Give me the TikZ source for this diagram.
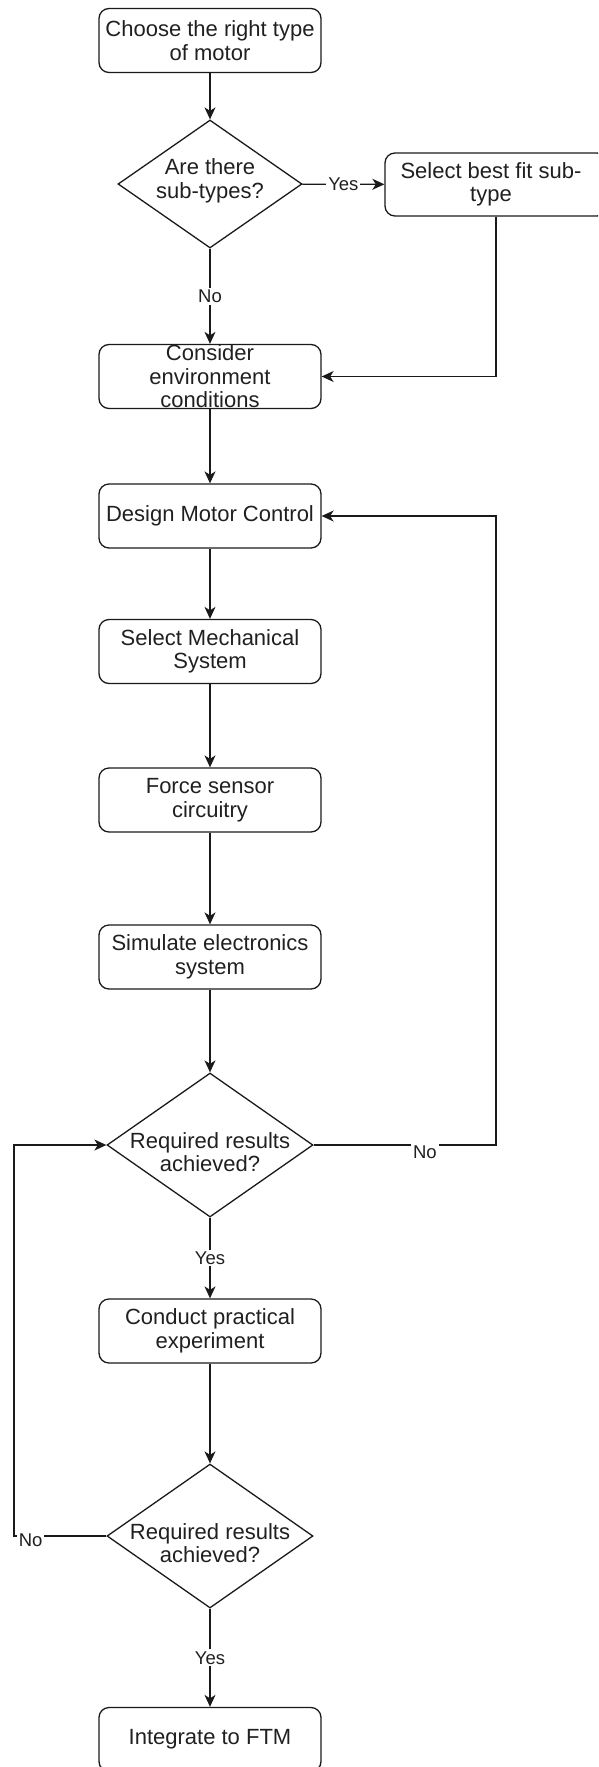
\documentclass[tikz,border=0pt]{standalone}
\usepackage{fontspec}
\setmainfont{Liberation Sans}
\usetikzlibrary{shapes.geometric,arrows.meta}
\definecolor{lc}{HTML}{1A1A1A}
\definecolor{tc}{HTML}{202020}
\begin{document}
\begin{tikzpicture}[x=1pt,y=-1pt,
  proc/.style={draw=lc, line width=1.3pt, rounded corners=10pt, minimum width=222pt, minimum height=64pt, inner sep=0pt, align=center, text=tc, font=\fontsize{22}{23.5}\selectfont},
  dec/.style={draw=lc, line width=1.3pt, diamond, aspect=1.43, minimum width=206pt, minimum height=144pt, inner sep=0pt},
  txt/.style={align=center, text=tc, font=\fontsize{22}{23.5}\selectfont, inner sep=0pt},
  lab/.style={fill=white, text=tc, font=\fontsize{18.5}{20}\selectfont, inner sep=2pt},
  arr/.style={draw=lc, line width=1.3pt, -{Stealth[length=12pt,width=11pt,inset=3.5pt]}}
]
\useasboundingbox (0,0) rectangle (598,1767);
\clip (0,0) rectangle (598,1767);

\node[proc] (b1) at (210,40.5) {Choose the right type\\of motor};
\node[dec, minimum width=184pt, minimum height=128pt] (d1) at (210,184) {};
\node[txt] (d1t) at (210,181) {Are there\\sub-types?};
\node[proc, minimum height=63pt] (bs) at (496,184.5) {};
\node[txt] (bst) at (491,184.5) {Select best fit sub-\\type};
\node[proc] (b2) at (210,376.5) {Consider\\environment\\conditions};
\node[proc] (b3) at (210,516) {Design Motor Control};
\node[proc] (b4) at (210,651.5) {Select Mechanical\\System};
\node[proc] (b5) at (210,800) {Force sensor\\circuitry};
\node[proc] (b6) at (210,957) {Simulate electronics\\system};
\node[dec] (d2) at (210,1145) {};
\node[txt] (d2t) at (210,1152) {Required results\\achieved?};
\node[proc] (b7) at (210,1331) {Conduct practical\\experiment};
\node[dec] (d3) at (210,1536) {};
\node[txt] (d3t) at (210,1543) {Required results\\achieved?};
\node[proc] (b8) at (210,1739.5) {Integrate to FTM};

\coordinate (cl) at (14,0);

\draw[arr] (b1) -- (d1);
\draw[arr] (d1) -- node[lab] {Yes} (bs);
\draw[arr] (d1) -- node[lab] {No} (b2);
\draw[arr] (bs.south) |- (b2.east);
\draw[arr] (b2) -- (b3);
\draw[arr] (b3) -- (b4);
\draw[arr] (b4) -- (b5);
\draw[arr] (b5) -- (b6);
\draw[arr] (b6) -- (d2);
\draw[arr] (d2) -- node[lab] {Yes} (b7);
\draw[arr] (b7) -- (d3);
\draw[arr] (d3) -- node[lab] {Yes} (b8);
\draw[arr] (d2.east) -- node[lab, pos=0.61, yshift=-7pt] {No} (d2.east -| bs.south) -- (b3.east -| bs.south) -- (b3.east);
\draw[arr] (d3.west) -- node[lab, pos=0.82, yshift=-4pt] {No} (d3.west -| cl) -- (d2.west -| cl) -- (d2.west);
\end{tikzpicture}
\end{document}
